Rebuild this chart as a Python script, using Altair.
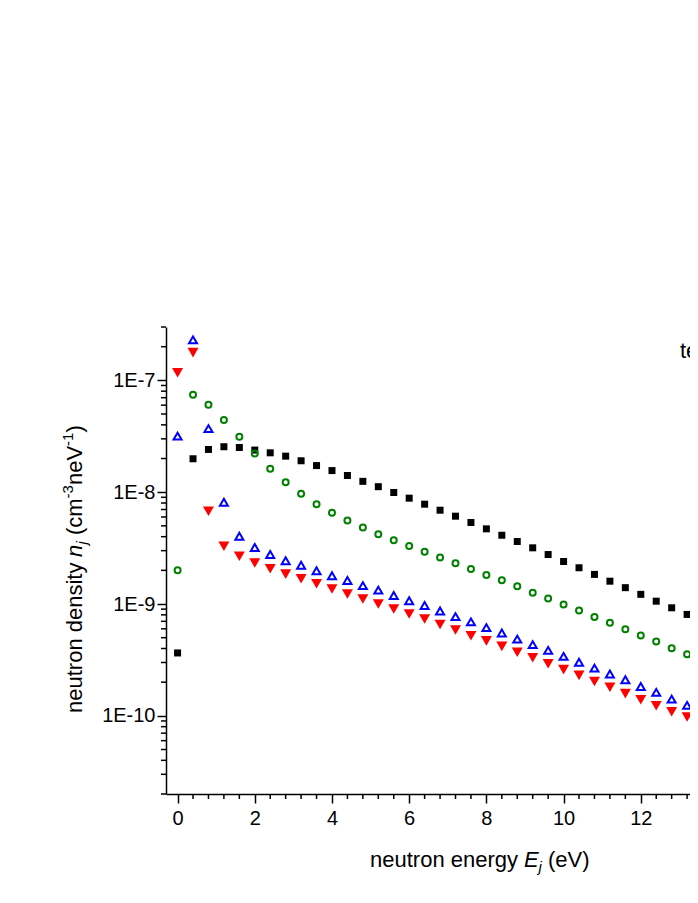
import altair as alt
import pandas as pd

# ---- data ----
energy = [0.0, 0.4, 0.8, 1.2, 1.6, 2.0, 2.4, 2.8, 3.2, 3.6, 4.0, 4.4, 4.8, 5.2, 5.6,
          6.0, 6.4, 6.8, 7.2, 7.6, 8.0, 8.4, 8.8, 9.2, 9.6, 10.0, 10.4, 10.8, 11.2,
          11.6, 12.0, 12.4, 12.8, 13.2, 13.6]

density_black = [3.65e-10, 1.99e-8, 2.41e-8, 2.55e-8, 2.51e-8, 2.38e-8, 2.25e-8, 2.10e-8,
                 1.91e-8, 1.73e-8, 1.56e-8, 1.41e-8, 1.25e-8, 1.12e-8, 9.93e-9, 8.84e-9,
                 7.81e-9, 6.90e-9, 6.10e-9, 5.36e-9, 4.70e-9, 4.12e-9, 3.62e-9, 3.18e-9,
                 2.77e-9, 2.40e-9, 2.11e-9, 1.84e-9, 1.60e-9, 1.40e-9, 1.22e-9, 1.06e-9,
                 9.25e-10, 8.07e-10, 7.03e-10]

density_green = [2.00e-9, 7.45e-8, 6.05e-8, 4.42e-8, 3.13e-8, 2.22e-8, 1.62e-8, 1.23e-8,
                 9.68e-9, 7.81e-9, 6.55e-9, 5.58e-9, 4.83e-9, 4.21e-9, 3.72e-9, 3.31e-9,
                 2.94e-9, 2.60e-9, 2.31e-9, 2.06e-9, 1.82e-9, 1.63e-9, 1.44e-9, 1.26e-9,
                 1.12e-9, 9.88e-10, 8.73e-10, 7.67e-10, 6.79e-10, 5.94e-10, 5.24e-10,
                 4.61e-10, 4.03e-10, 3.55e-10, 3.13e-10]

density_blue = [3.17e-8, 2.30e-7, 3.70e-8, 8.14e-9, 4.04e-9, 3.20e-9, 2.77e-9, 2.44e-9,
                2.22e-9, 1.98e-9, 1.79e-9, 1.62e-9, 1.46e-9, 1.33e-9, 1.19e-9, 1.07e-9,
                9.68e-10, 8.67e-10, 7.71e-10, 6.92e-10, 6.15e-10, 5.51e-10, 4.85e-10,
                4.33e-10, 3.85e-10, 3.40e-10, 3.01e-10, 2.67e-10, 2.37e-10, 2.10e-10,
                1.83e-10, 1.62e-10, 1.41e-10, 1.24e-10, 1.09e-10]

density_red = [1.17e-7, 1.77e-7, 6.76e-9, 3.29e-9, 2.67e-9, 2.33e-9, 2.07e-9, 1.85e-9,
               1.68e-9, 1.52e-9, 1.36e-9, 1.23e-9, 1.11e-9, 1.00e-9, 9.03e-10, 8.15e-10,
               7.36e-10, 6.55e-10, 5.86e-10, 5.21e-10, 4.68e-10, 4.18e-10, 3.71e-10,
               3.31e-10, 2.92e-10, 2.59e-10, 2.30e-10, 2.03e-10, 1.80e-10, 1.58e-10,
               1.39e-10, 1.23e-10, 1.09e-10, 9.75e-11, 8.67e-11]

x_major = [0, 2, 4, 6, 8, 10, 12]
y_major = [1e-10, 1e-9, 1e-8, 1e-7]

# ---- layout ----
FONT = "Liberation Sans"
W, H = 524, 467
X_DOMAIN = [-0.3, 13.275]
Y_DOMAIN = [2e-11, 3e-7]

x_minor = [round(0.4 * i, 1) for i in range(1, 34) if i % 5 != 0]
y_minor = [k * 10.0 ** e for e in range(-11, -6) for k in range(2, 10)
           if Y_DOMAIN[0] <= k * 10.0 ** e <= Y_DOMAIN[1] * 1.0001]

xscale = alt.Scale(domain=X_DOMAIN, nice=False, zero=False)
yscale = alt.Scale(type="log", domain=Y_DOMAIN, nice=False)

xaxis = alt.Axis(values=x_major, title=None, grid=False, tickSize=9, tickWidth=1.5,
                 domainWidth=1.5, domainColor="black", tickColor="black",
                 labelFont=FONT, labelFontSize=20, labelColor="black", labelPadding=5,
                 labelFlush=False, format="d")
yaxis = alt.Axis(values=y_major, title=None, grid=False, tickSize=9, tickWidth=1.5,
                 domainWidth=1.5, domainColor="black", tickColor="black",
                 labelFont=FONT, labelFontSize=20, labelColor="black", labelPadding=2,
                 labelFlush=False,
                 labelExpr="'1E' + round(log(datum.value) / LN10)")


def series(values, **mark):
    df = pd.DataFrame({"energy": energy, "density": values})
    return alt.Chart(df).mark_point(opacity=1, **mark).encode(
        x=alt.X("energy:Q", scale=xscale, axis=xaxis),
        y=alt.Y("density:Q", scale=yscale, axis=yaxis),
    )


black = series(density_black, shape="square", filled=True, color="black", size=49,
               strokeWidth=0)
green = series(density_green, shape="circle", filled=False, color="#008000", size=36,
               strokeWidth=2)
blue = series(density_blue, shape="triangle-up", filled=False, color="#0000ff", size=64,
              strokeWidth=2)
red = series(density_red, shape="triangle-down", filled=True, color="#ff0000", size=121,
             strokeWidth=0)

# minor ticks via the scales
xminor = alt.Chart(pd.DataFrame({"v": x_minor})).mark_rule(
    color="black", strokeWidth=1.5).encode(
    x=alt.X("v:Q", scale=xscale, axis=xaxis), y=alt.value(H), y2=alt.value(H + 5))
yminor = alt.Chart(pd.DataFrame({"v": y_minor})).mark_rule(
    color="black", strokeWidth=1.5).encode(
    y=alt.Y("v:Q", scale=yscale, axis=yaxis), x=alt.value(0), x2=alt.value(-5))

one = pd.DataFrame({"a": [0]})


def label(text, x, y, size=22, italic=False, angle=None):
    kw = dict(text=text, fontSize=size, font=FONT, align="left",
              baseline="alphabetic", color="black")
    if italic:
        kw["fontStyle"] = "italic"
    if angle is not None:
        kw["angle"] = angle
    return alt.Chart(one).mark_text(**kw).encode(x=alt.value(x), y=alt.value(y))


# x title: neutron energy E_j (eV)
xt_y = 540
xtitle = [
    label("neutron energy", 204, xt_y),
    label("E", 358, xt_y, italic=True),
    label("j", 372.5, xt_y + 5, size=15, italic=True),
    label("(eV)", 382, xt_y),
]

# y title (rotated): neutron density n_j (cm^-3 neV^-1)
yt_x = -84
ytitle = [
    label("neutron density", yt_x, 386, angle=270),
    label("n", yt_x, 230, italic=True, angle=270),
    label("j", yt_x + 5, 217.5, size=15, italic=True, angle=270),
    label("(cm", yt_x, 208, angle=270),
    label("-3", yt_x - 9, 171.5, size=15, angle=270),
    label("neV", yt_x, 158, angle=270),
    label("-1", yt_x - 9, 119, size=15, angle=270),
    label(")", yt_x, 105.5, angle=270),
]

legend_text = label("temperature", 514, 31)

chart = alt.layer(
    xminor, yminor, black, green, blue, red, *xtitle, *ytitle, legend_text
).properties(
    width=W, height=H,
    background="white",
    padding={"left": 158, "top": 319, "right": 0, "bottom": 100},
    autosize=alt.AutoSizeParams(type="none"),
).configure_view(stroke=None, strokeWidth=0)

chart.save("out.html", embed_options={"renderer": "svg", "actions": False})
